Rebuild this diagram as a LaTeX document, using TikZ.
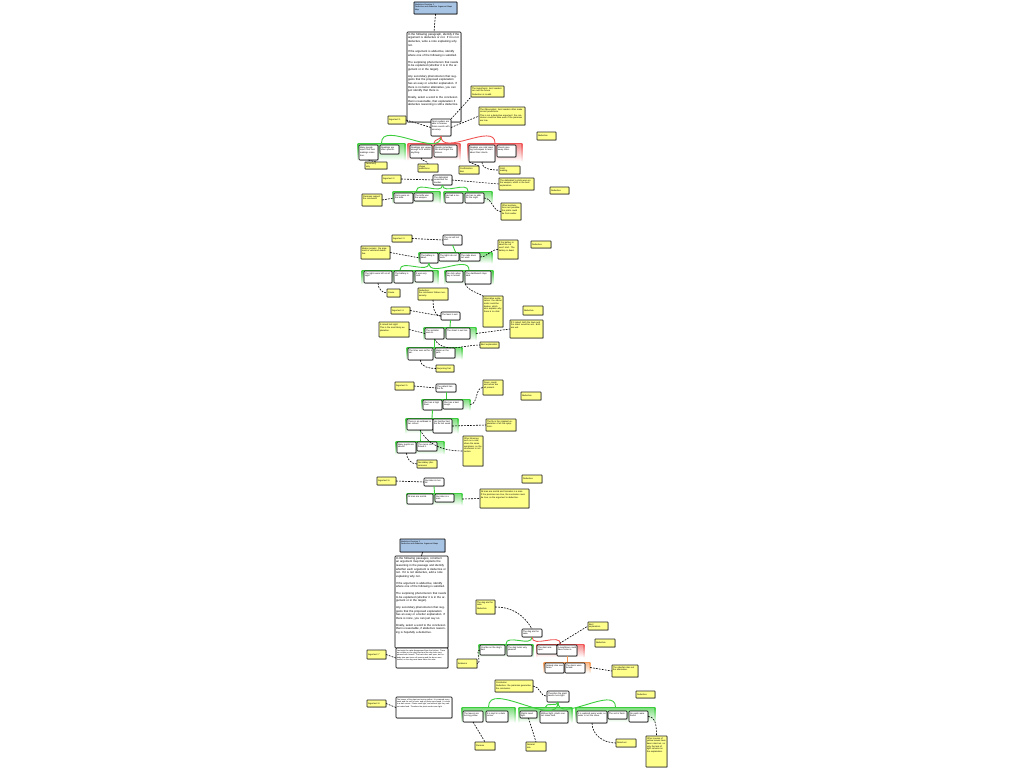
\documentclass[tikz,border=0pt]{standalone}
\usepackage{fontspec}
\setmainfont{Liberation Sans}
\usetikzlibrary{shadows}
\definecolor{grn}{RGB}{60,205,60}
\definecolor{rd}{RGB}{240,85,85}
\definecolor{org}{RGB}{245,150,80}
\definecolor{noteY}{RGB}{255,255,140}
\definecolor{blu}{RGB}{168,196,228}
\tikzset{
  box/.style={draw=black, line width=0.55pt, rounded corners=0.8pt, fill=white, inner sep=1pt, outer sep=0pt,
    align=left, font=\fontsize{2.2}{2.6}\selectfont,
    drop shadow={shadow xshift=0.7pt, shadow yshift=-0.7pt, opacity=0.55}},
  note/.style={box, fill=noteY, draw=black!85, rounded corners=0.3pt},
  title/.style={box, fill=blu, rounded corners=0.3pt, font=\fontsize{2}{2.5}\selectfont},
  bigtext/.style={box, font=\fontsize{2.85}{3.65}\selectfont},
  dense/.style={box, font=\fontsize{1.9}{2.3}\selectfont},
  dashlink/.style={draw=black, line width=0.6pt, dash pattern=on 1.8pt off 1.2pt},
  treelink/.style={draw=#1, line width=0.9pt},
  grpfill/.style={inner sep=0pt, outer sep=0pt, draw=none, top color=#1!70, bottom color=white}
}
% top-aligned text node: style, name, x, y, w, h, text
\newcommand{\mynode}[7]{%
  \pgfmathsetmacro\mytw{#5-2}\pgfmathsetmacro\mytd{max(#6-2-2.3,0)}%
  \node[#1, anchor=north west, minimum width=#5pt, text width=\mytw pt, text height=2.3pt, text depth=\mytd pt] (#2) at (#3,#4) {#7};}
% vertically centred text node
\newcommand{\mynodec}[7]{%
  \pgfmathsetmacro\mytw{#5-2}%
  \node[#1, anchor=north west, minimum width=#5pt, minimum height=#6pt, text width=\mytw pt] (#2) at (#3,#4) {#7};}
\newcommand{\mygrp}[6]{%
  \pgfmathsetmacro\mygw{#5-#3}\pgfmathsetmacro\mygh{#6-#4}%
  \node[grpfill=#2, anchor=north west, minimum width=\mygw pt, minimum height=\mygh pt] (#1) at (#3,#4) {};
  \shade[top color=#2, bottom color=#2!5] ([xshift=-0.4pt]#1.north west) rectangle ([xshift=0.4pt]#1.south west);
  \shade[top color=#2, bottom color=#2!5] ([xshift=-0.4pt]#1.north east) rectangle ([xshift=0.4pt]#1.south east);
  \draw[#2, line width=0.9pt] (#1.north west) -- (#1.north east);}
\begin{document}
\begin{tikzpicture}[x=1pt,y=-1pt]
\useasboundingbox[fill=white] (0,0) rectangle (1024,768);

% ================= groups =================
\mygrp{G1a}{grn}{358}{143}{405}{160}
\mygrp{G1b}{rd}{408}{143}{460}{160}
\mygrp{G1c}{rd}{468}{143}{522}{161}
\mygrp{G2a}{grn}{393}{191}{440}{203}
\mygrp{G2b}{grn}{444}{191}{492}{203}
\mygrp{G3a}{grn}{419}{252}{492}{263}
\mygrp{G3b}{grn}{362}{270}{438}{284}
\mygrp{G3c}{grn}{445}{270}{493}{284}
\mygrp{G4a}{grn}{424}{327}{476}{340}
\mygrp{G4b}{grn}{407}{347}{462}{359}
\mygrp{G5a}{grn}{422}{399}{470}{410}
\mygrp{G5b}{grn}{406}{418}{458}{433}
\mygrp{G5c}{grn}{396}{441}{444}{454}
\mygrp{G6a}{grn}{407}{493}{462}{505}
\mygrp{G7a}{grn}{479}{644}{533}{657}
\mygrp{G7b}{rd}{537}{644}{584}{657}
\mygrp{G7c}{org}{544}{662}{590}{673}
\mygrp{G8a}{grn}{462}{707}{515}{722}
\mygrp{G8b}{grn}{519}{707}{572}{722}
\mygrp{G8c}{grn}{576}{707}{655}{722}

% ================= section 1 =================
\mynode{title}{T1}{414}{2}{43}{12}{Abduction Exercise 1\\ Deductive and Abductive Argument Maps\\ Map}
\mynode{bigtext}{P1}{407}{32}{54}{90}{In the following paragraph, identify if the argument is deductive or not. If it is not deductive, write a note explaining why not.\par\vspace{3pt}
If the argument is abductive, identify where one of the following is satisfied.\par\vspace{3pt}
The surprising phenomenon that needs to be explained (whether it is in the argument or in the target).\par\vspace{3pt}
Any secondary phenomenon that suggests that the proposed explanation has an easy or a better explanation. If there is no better alternative, you can just identify that there is.\par\vspace{3pt}
Finally, select a word to the conclusion that is reasonable, that explanation if abductive reasoning is still a deductive.}
\mynode{box}{C1}{431}{119}{20}{17}{Tarot readers are able to foresee future events with accuracy.}
\mynodec{note}{N1a}{388}{116}{18}{8}{Argument 1}
\mynode{note}{N1b}{471}{86}{33}{11}{The Hypothesis: tarot readers can see the future.\\[0.6pt] Deduction is invalid.}
\mynode{note}{N1c}{479}{107}{46}{18}{The Observation: tarot readers often make correct predictions.\\[0.6pt] This is not a deductive argument: the conclusion could be false even if the premises are true.}
\mynodec{note}{G1}{537}{132}{19}{8}{\centering Abductive}
\mynode{box}{B1}{359}{145}{19}{15}{Many people report that their readings came true.}
\mynode{box}{B2}{380}{145}{19}{9}{Readings are often specific.}
\mynode{box}{B3}{410}{145}{22}{13}{Readings are vague enough to fit almost anything.}
\mynode{box}{B4}{434}{145}{23}{12}{People remember hits and forget the misses.}
\mynode{box}{B5}{469}{145}{26}{17}{Readers use cold reading techniques to learn about their clients.}
\mynode{box}{B6}{497}{145}{19}{12}{Clients give away clues.}
\mynodec{note}{N1d}{365}{162}{22}{7}{Testimony\\ only}
\mynodec{note}{N1e}{418}{164}{20}{8}{Vague\\ predictions}
\mynodec{note}{N1f}{459}{166}{20}{8}{Confirmation\\ bias}
\mynodec{note}{N1g}{499}{166}{21}{8}{Cold\\ reading}

% ================= section 1b =================
\mynodec{note}{N2a}{382}{175}{19}{8}{Argument 2}
\mynode{box}{C2}{433}{175}{19}{10}{The defendant committed the murder.}
\mynode{note}{N2b}{499}{178}{35}{12}{The defendant's prints were on the weapon, which is the best explanation.}
\mynodec{note}{G2}{550}{187}{19}{7}{\centering Deductive}
\mynode{box}{B7}{394}{193}{19}{10}{Prints were on the knife.}
\mynode{box}{B8}{414}{193}{19}{8}{The knife was the weapon.}
\mynode{box}{B9}{445}{193}{18}{10}{He had a motive.}
\mynode{box}{B10}{465}{193}{19}{10}{He has no alibi for the night.}
\mynode{note}{N2c}{362}{194}{20}{12}{Premises support the conclusion}
\mynode{note}{N2d}{501}{203}{20}{17}{Other explanations are possible: the prints could be from earlier.}

% ================= section 2 =================
\mynodec{note}{N3a}{392}{235}{20}{7}{Argument 3}
\mynode{box}{C3}{443}{235}{19}{10}{The car will not start.}
\mynode{note}{N3b}{498}{240}{20}{19}{If the battery is dead the car won't start. The battery is dead.}
\mynodec{note}{G3}{531}{241}{20}{7}{\centering Deductive}
\mynode{note}{N3c}{361}{246}{29}{13}{Modus ponens: the argument is valid and deductive.}
\mynode{box}{B11}{420}{253}{18}{10}{The battery is dead.}
\mynode{box}{B12}{439}{253}{20}{8}{The lights do not work.}
\mynode{box}{B13}{460}{253}{20}{8}{The radio does not work.}
\mynode{box}{B14}{364}{271}{28}{12}{The lights were left on all night.}
\mynode{box}{B15}{394}{271}{19}{12}{The battery is old.}
\mynode{box}{B16}{415}{271}{18}{11}{It was very cold.}
\mynode{box}{B17}{446}{271}{17}{11}{No click when key is turned.}
\mynode{box}{B18}{465}{271}{26}{13}{The dashboard stays dark.}
\mynodec{note}{N3d}{387}{289}{13}{8}{Cause}
\mynode{note}{N3e}{418}{288}{30}{12}{Deductive:\\ the conclusion follows necessarily.}
\mynode{note}{N3f}{483}{296}{20}{31}{Alternative explanation: the starter motor could be broken, which also explains why there is no click.}

% ================= section 2b =================
\mynodec{note}{N4a}{391}{307}{19}{7}{Argument 4}
\mynode{box}{C4}{441}{312}{19}{8}{The lawn is wet.}
\mynodec{note}{G4}{523}{306}{20}{9}{\centering Abductive}
\mynode{note}{N4b}{379}{322}{30}{15}{It rained last night.\\[0.6pt] This is the most likely explanation.}
\mynode{box}{B19}{425}{328}{19}{11}{The sprinkler was on.}
\mynode{box}{B20}{446}{328}{24}{11}{The street is wet too.}
\mynode{note}{N4c}{510}{320}{33}{18}{If it rained, both the lawn and the street would be wet. Both are wet.}
\mynodec{note}{N4d}{480}{342}{19}{6}{Best explanation}
\mynode{box}{B21}{408}{348}{25}{12}{The timer was set for 6 am.}
\mynode{box}{B22}{435}{348}{20}{10}{Water on the path.}
\mynodec{note}{N4e}{436}{365}{18}{7}{Surprising fact}

% ================= section 3 =================
\mynodec{note}{N5a}{395}{382}{19}{8}{Argument 5}
\mynode{box}{C5}{436}{384}{20}{8}{The patient has the flu.}
\mynode{note}{N5b}{483}{380}{20}{15}{Fever, cough and aches are all present.}
\mynodec{note}{G5}{521}{392}{20}{8}{\centering Abductive}
\mynode{box}{B23}{423}{400}{19}{10}{She has a high fever.}
\mynode{box}{B24}{443}{400}{20}{9}{She has a bad cough.}
\mynode{box}{B25}{407}{419}{26}{11}{There is an outbreak in her school.}
\mynode{box}{B26}{433}{419}{19}{14}{Her brother had the flu last week.}
\mynode{note}{N5c}{486}{419}{30}{12}{The flu is the simplest explanation of all the symptoms.}
\mynode{note}{N5d}{463}{436}{20}{30}{Other illnesses, such as a cold, share the same symptoms, so the conclusion is not certain.}
\mynode{box}{B27}{397}{442}{19}{11}{Many pupils are absent.}
\mynode{box}{B28}{417}{442}{20}{9}{The nurse confirmed it.}
\mynodec{note}{N5e}{417}{460}{20}{8}{Secondary phenomenon}

% ================= section 4 =================
\mynodec{note}{N6a}{377}{477}{19}{8}{Argument 6}
\mynode{box}{C6}{424}{478}{20}{8}{Socrates is mortal.}
\mynodec{note}{G6}{522}{475}{20}{8}{\centering Deductive}
\mynode{box}{B29}{407}{494}{26}{10}{All men are mortal.}
\mynode{box}{B30}{435}{494}{19}{8}{Socrates is a man.}
\mynode{note}{N6b}{480}{489}{49}{19}{All men are mortal and Socrates is a man.\\[0.6pt] If the premises are true, the conclusion must be true, so the argument is deductive.}

% ================= section 5 =================
\mynode{title}{T2}{400}{539}{45}{13}{Abduction Exercise 2\\ Deductive and Abductive Argument Maps}
\mynode{bigtext}{P2}{395}{556}{53}{92}{In the following passages, construct an argument map that explains the reasoning in the passage and identify whether each argument is deductive or not. If it is not deductive, add a note explaining why not.\par\vspace{3pt}
If the argument is abductive, identify where one of the following is satisfied.\par\vspace{3pt}
The surprising phenomenon that needs to be explained (whether it is in the argument or in the target).\par\vspace{3pt}
Any secondary phenomenon that suggests that the proposed explanation has an easy or a better explanation. If there is none, you can just say so.\par\vspace{3pt}
Finally, select a word to the conclusion that is reasonable, if abductive reasoning is hopefully a deductive.}
\mynode{dense}{P3}{396}{648}{52}{20}{Last night the cake disappeared from the kitchen. There are crumbs on the dog's bed and the dog looks very pleased with himself. The back door was open, but nobody else was home all evening and the doors were locked, so the dog must have eaten the cake.}
\mynodec{note}{N7a}{367}{650}{19}{9}{Argument 7}
\mynode{note}{N7b}{476}{600}{19}{14}{The dog ate the cake.\\[0.6pt] Abductive}
\mynode{box}{C7}{522}{629}{20}{8}{The dog ate the cake.}
\mynodec{note}{N7c}{588}{622}{20}{8}{Best\\ explanation}
\mynodec{note}{G7}{595}{639}{20}{8}{\centering Abductive}
\mynode{box}{B31}{480}{645}{25}{10}{Crumbs on the dog's bed.}
\mynode{box}{B32}{507}{645}{25}{11}{The dog looks very pleased.}
\mynode{box}{B33}{537}{645}{20}{9}{The door was open.}
\mynode{box}{B34}{557}{645}{20}{11}{A neighbour could have come in.}
\mynode{box}{B35}{545}{663}{19}{10}{Nobody else was home.}
\mynode{box}{B36}{565}{663}{20}{10}{The doors were locked.}
\mynode{note}{N7d}{612}{665}{26}{12}{The rebuttal rules out the alternative.}
\mynodec{note}{N7e}{457}{659}{20}{9}{Evidence}

% ================= section 5b =================
\mynodec{note}{N8a}{367}{700}{19}{7}{Argument 8}
\mynode{dense}{P4}{396}{697}{56}{21}{The leaves of the plant are turning yellow. It is watered every week and the soil is fresh, and no pests were found. It is kept in a dark corner. Plants need light, and without light they cannot make food. Therefore the plant needs more light.}
\mynode{note}{N8b}{495}{680}{38}{12}{Conclusion\\[0.6pt] Deductive: the premises guarantee the conclusion.}
\mynode{box}{C8}{547}{691}{22}{11}{Therefore the plant needs more light.}
\mynodec{note}{G8}{636}{691}{19}{7}{\centering Deductive}
\mynode{box}{B37}{463}{711}{20}{11}{The leaves are turning yellow.}
\mynode{box}{B38}{486}{711}{22}{11}{It is kept in a dark corner.}
\mynode{box}{B39}{520}{711}{17}{7}{Plants need light.}
\mynode{box}{B40}{540}{711}{28}{12}{Without light, plants cannot make food.}
\mynode{box}{B41}{577}{711}{30}{12}{It is watered every week, so water is not the issue.}
\mynode{box}{B42}{608}{711}{19}{8}{The soil is fresh.}
\mynode{box}{B43}{629}{711}{19}{11}{No pests were found.}
\mynodec{note}{N8c}{475}{742}{20}{8}{Premise}
\mynodec{note}{N8d}{526}{742}{20}{9}{General\\ rule}
\mynodec{note}{N8e}{616}{739}{20}{8}{Ruled out}
\mynode{note}{N8f}{646}{736}{21}{31}{Other causes of yellow leaves have been ruled out, so only the lack of light remains as the explanation.}

% ================= tree connectors =================
\draw[treelink=grn] (C1.south) to[out=-90,in=90] (G1a.north);
\draw[treelink=rd] (C1.south) to[out=-90,in=90] (G1b.north);
\draw[treelink=rd] (C1.south) to[out=-90,in=90] (G1c.north);
\draw[treelink=grn] (C2.south) to[out=-90,in=90] (G2a.north);
\draw[treelink=grn] (C2.south) to[out=-90,in=90] (G2b.north);
\draw[treelink=grn] (C3.south) to[out=-90,in=90] (G3a.north);
\draw[treelink=grn] (B11.south) to[out=-90,in=90] (G3b.north);
\draw[treelink=grn] (B11.south) to[out=-90,in=90] (G3c.north);
\draw[treelink=grn] (C4.south) to[out=-90,in=90] (G4a.north);
\draw[treelink=grn] (B19.south) to[out=-90,in=90] (G4b.north);
\draw[treelink=grn] (C5.south) to[out=-90,in=90] (G5a.north);
\draw[treelink=grn] (B23.south) to[out=-90,in=90] (G5b.north);
\draw[treelink=grn] (B25.south) to[out=-90,in=90] (G5c.north);
\draw[treelink=grn] (C6.south) to[out=-90,in=90] (G6a.north);
\draw[treelink=grn] (C7.south) to[out=-90,in=90] (G7a.north);
\draw[treelink=rd] (C7.south) to[out=-90,in=90] (G7b.north);
\draw[treelink=org] (B34.south) to[out=-90,in=90] (G7c.north);
\draw[treelink=grn] (C8.south) to[out=-90,in=90] (G8a.north);
\draw[treelink=grn] (C8.south) to[out=-90,in=90] (G8b.north);
\draw[treelink=grn] (C8.south) to[out=-90,in=90] (G8c.north);

% ================= dashed connectors =================
\draw[dashlink] (T1.south) -- (P1.north);
\draw[line width=0.6pt] (T2.south) -- (P2.north);
\draw[dashlink] (N1a.east) -- (C1.west);
\draw[dashlink] (C1.north east) -- (N1b.south west);
\draw[dashlink] (C1.east) -- (N1c.west);
\draw[dashlink] (B1.south) -- (N1d.north);
\draw[dashlink] (B3.south) to[out=-90,in=90] (N1e.north);
\draw[dashlink] (B5.south west) -- (N1f.north east);
\draw[dashlink] (B5.south) to[out=-90,in=180] (N1g.west);
\draw[dashlink] (N2a.east) -- (C2.west);
\draw[dashlink] (C2.east) -- (N2b.west);
\draw[dashlink] (N2c.east) -- (B7.west);
\draw[dashlink] (B10.east) to[out=0,in=180] (N2d.west);
\draw[dashlink] (N3a.east) -- (C3.west);
\draw[dashlink] (B13.east) to[out=0,in=180] (N3b.west);
\draw[dashlink] (N3c.east) -- (B11.west);
\draw[dashlink] (B14.south) to[out=-90,in=180] (N3d.west);
\draw[dashlink] (B18.south west) to[out=-60,in=150] (N3f.north west);
\draw[dashlink] (N3e.south) to[out=-90,in=180] (C4.west);
\draw[dashlink] (N4a.east) -- (C4.west);
\draw[dashlink] (N4b.east) -- (B19.west);
\draw[dashlink] (G4a.east) -- (N4c.west);
\draw[dashlink] (B19.south) to[out=-60,in=180] (N4d.west);
\draw[dashlink] (B21.south) to[out=-90,in=180] (N4e.west);
\draw[dashlink] (N5a.east) -- (C5.west);
\draw[dashlink] (G5a.east) to[out=0,in=180] (N5b.west);
\draw[dashlink] (B26.east) -- (N5c.west);
\draw[dashlink] (B25.south) to[out=-60,in=180] (N5d.west);
\draw[dashlink] (B27.south) to[out=-90,in=180] (N5e.west);
\draw[dashlink] (N6a.east) -- (C6.west);
\draw[dashlink] (G6a.east) -- (N6b.west);
\draw[dashlink] (N7a.east) -- (P3.west);
\draw[dashlink] (N7b.east) to[out=0,in=120] (C7.north);
\draw[dashlink] (B33.north east) -- (N7c.west);
\draw[dashlink] (G7c.east) -- (N7d.west);
\draw[dashlink] (B31.west) to[out=180,in=0] (N7e.east);
\draw[dashlink] (N8a.east) -- (P4.west);
\draw[dashlink] (N8b.east) to[out=0,in=180] (C8.west);
\draw[dashlink] (B37.south) -- (N8c.north);
\draw[dashlink] (B39.south) -- (N8d.north);
\draw[dashlink] (B41.south) to[out=-90,in=180] (N8e.west);
\draw[dashlink] (B43.east) to[out=0,in=90] (N8f.north);
\end{tikzpicture}
\end{document}
